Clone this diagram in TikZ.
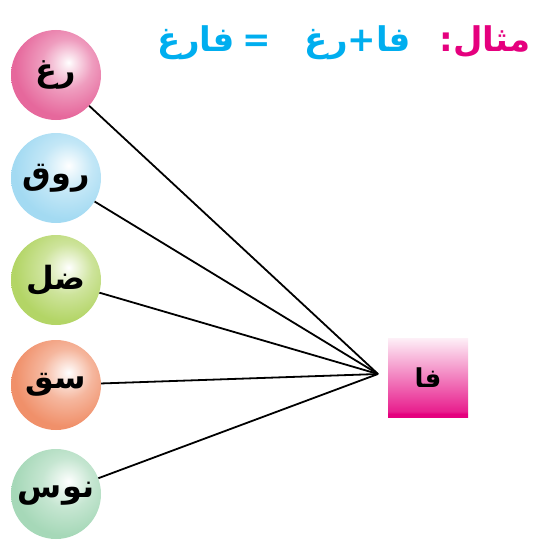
\documentclass[tikz,border=0pt]{standalone}
\usepackage{fontspec}
\newfontfamily\arabicfont[Script=Arabic]{DejaVu Sans}
\TeXXeTstate=1
\definecolor{pinkc}{HTML}{E6689C}
\definecolor{bluec}{HTML}{A3DAF2}
\definecolor{greenc}{HTML}{B3D566}
\definecolor{orangec}{HTML}{F0906A}
\definecolor{mintc}{HTML}{A6D8B8}
\definecolor{magc}{HTML}{E5007E}
\definecolor{cyanc}{HTML}{00AEEF}
\pgfdeclareradialshading{ballpink}{\pgfpoint{7bp}{7bp}}{color(0bp)=(white); color(3bp)=(pinkc!15!white); color(14bp)=(pinkc!65!white); color(28bp)=(pinkc); color(100bp)=(pinkc)}
\pgfdeclareradialshading{ballblue}{\pgfpoint{7bp}{7bp}}{color(0bp)=(white); color(3bp)=(bluec!15!white); color(14bp)=(bluec!65!white); color(28bp)=(bluec); color(100bp)=(bluec)}
\pgfdeclareradialshading{ballgreen}{\pgfpoint{7bp}{7bp}}{color(0bp)=(white); color(3bp)=(greenc!15!white); color(14bp)=(greenc!65!white); color(28bp)=(greenc); color(100bp)=(greenc)}
\pgfdeclareradialshading{ballorange}{\pgfpoint{7bp}{7bp}}{color(0bp)=(white); color(3bp)=(orangec!15!white); color(14bp)=(orangec!65!white); color(28bp)=(orangec); color(100bp)=(orangec)}
\pgfdeclareradialshading{ballmint}{\pgfpoint{7bp}{7bp}}{color(0bp)=(white); color(3bp)=(mintc!15!white); color(14bp)=(mintc!65!white); color(28bp)=(mintc); color(100bp)=(mintc)}
\pgfdeclareverticalshading{boxsh}{100bp}{color(0bp)=(magc); color(27bp)=(magc); color(28.5bp)=(magc!88!white); color(75bp)=(magc!6!white); color(100bp)=(magc!6!white)}
\tikzset{
  ballnode/.style={circle, minimum size=90pt, inner sep=0pt, font=\arabicfont\bfseries\fontsize{32}{38}\selectfont},
  link/.style={line width=1.8pt, black},
  titletext/.style={anchor=base, inner sep=0pt, font=\arabicfont\bfseries\fontsize{34}{40}\selectfont}
}
\begin{document}
\begin{tikzpicture}[x=1pt,y=-1pt]
\useasboundingbox (0,0) rectangle (534,543);
\node[ballnode, shading=ballpink] (c1) at (56,75) {\beginR رغ\endR};
\node[ballnode, shading=ballblue] (c2) at (56,178) {\beginR روق\endR};
\node[ballnode, shading=ballgreen] (c3) at (56,280) {\beginR ضل\endR};
\node[ballnode, shading=ballorange] (c4) at (56,385) {\beginR سق\endR};
\node[ballnode, shading=ballmint] (c5) at (56,494) {\beginR نوس\endR};
\node[minimum width=80pt, minimum height=79pt, inner sep=0pt, shading=boxsh,
  font=\arabicfont\bfseries\fontsize{26}{30}\selectfont] (box) at (428,377.5) {\beginR فا\endR};
\coordinate (p) at (378,374);
\foreach \c in {c1,c2,c3,c4,c5} \draw[link] (\c) -- (p);
\node[titletext, text=magc] (t1) at (485,52) {\beginR مثال:\endR};
\node[titletext, text=cyanc] (t2) at (358,52) {\beginR فا+رغ\endR};
\node[titletext, text=cyanc] (t3) at (257,52) {=};
\node[titletext, text=cyanc] (t4) at (196,52) {\beginR فارغ\endR};
\end{tikzpicture}
\end{document}
